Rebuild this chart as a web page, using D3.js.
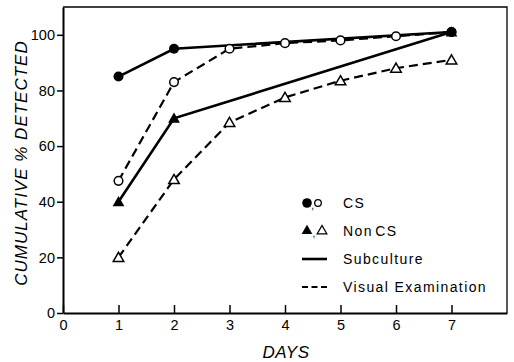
<!DOCTYPE html>
<html><head><meta charset="utf-8">
<script src="https://cdn.jsdelivr.net/npm/d3@7"></script>
<style>
html,body{margin:0;padding:0;background:#fff;}
svg{display:block;font-family:"Liberation Sans",Arial,sans-serif;}
</style></head>
<body><svg id="c" width="514" height="362"></svg>
<script>
const days = [1,2,3,4,5,6,7];
const subDays = [1,2,7];
const csSubculture = [85,95,101];
const nonCsSubculture = [40,70,101];
const csVisual = [47.5,83,95,97,98,99.5,101];
const nonCsVisual = [20,48,68.5,77.5,83.5,88,91];
const yTicks = [0,20,40,60,80,100];
const xTicks = [0,1,2,3,4,5,6,7];
const legendItems = ["CS","Non CS","Subculture","Visual Examination"];

const svg = d3.select("#c");
const x = d3.scaleLinear().domain([0,8]).range([63,507]);
const y = d3.scaleLinear().domain([0,110]).range([313,7]);

// frame top/right
svg.append("path").attr("d",`M${x(0)},${y(110)}H${x(8)}V${y(0)}`)
  .attr("fill","none").attr("stroke","#000").attr("stroke-width",1.3);

const yAx = svg.append("g").attr("transform",`translate(${x(0)},0)`)
  .call(d3.axisLeft(y).tickValues(yTicks).tickSize(6).tickPadding(2).tickSizeOuter(0));
yAx.select(".domain").attr("stroke-width",2);
yAx.selectAll(".tick line").attr("stroke-width",1.5);
yAx.selectAll("text").attr("font-size",14.5).attr("fill","#000")
  .attr("font-family","Liberation Sans, Arial, sans-serif");

const xAx = svg.append("g").attr("transform",`translate(0,${y(0)})`)
  .call(d3.axisBottom(x).tickValues(xTicks).tickSizeInner(-8).tickSizeOuter(0).tickPadding(7));
xAx.select(".domain").attr("stroke-width",2);
xAx.selectAll(".tick line").attr("stroke-width",1.5);
xAx.selectAll("text").attr("font-size",14.5).attr("fill","#000")
  .attr("font-family","Liberation Sans, Arial, sans-serif");

// axis titles
svg.append("text").attr("transform","translate(27,163) rotate(-90)")
  .attr("text-anchor","middle").attr("font-style","italic").attr("font-size",17)
  .attr("letter-spacing",1).text("CUMULATIVE % DETECTED");
svg.append("text").attr("x",286).attr("y",358)
  .attr("text-anchor","middle").attr("font-style","italic").attr("font-size",17)
  .attr("letter-spacing",0.5).text("DAYS");

const line = d3.line().x(d=>x(d[0])).y(d=>y(d[1]));
const zip = (a,b)=>a.map((v,i)=>[v,b[i]]);

function drawLine(pts, dashed){
  svg.append("path").attr("d",line(pts)).attr("fill","none").attr("stroke","#000")
    .attr("stroke-width",dashed?2.2:2.6)
    .attr("stroke-dasharray",dashed?"9,5":null);
}
drawLine(zip(days,csVisual),true);
drawLine(zip(days,nonCsVisual),true);
drawLine(zip(subDays,csSubculture),false);
drawLine(zip(subDays,nonCsSubculture),false);

const tri = d3.symbol().type(d3.symbolTriangle);
function circles(pts, filled){
  svg.append("g").selectAll("circle").data(pts).join("circle")
    .attr("cx",d=>x(d[0])).attr("cy",d=>y(d[1]))
    .attr("r",filled?5:4.3)
    .attr("fill",filled?"#000":"#fff").attr("stroke","#000").attr("stroke-width",filled?0:1.5);
}
function triangles(pts, filled){
  svg.append("g").selectAll("path").data(pts).join("path")
    .attr("transform",d=>`translate(${x(d[0])},${y(d[1])+1})`)
    .attr("d",tri.size(filled?60:48)())
    .attr("fill",filled?"#000":"#fff").attr("stroke","#000").attr("stroke-width",filled?0:1.5);
}
circles(zip(days,csVisual),false);
triangles(zip(days,nonCsVisual),false);
circles(zip(subDays,csSubculture),true);
triangles(zip(subDays,nonCsSubculture),true);

// legend
const lg = svg.append("g");
const rowY = [203,231,259,287];
const tx = 343;
legendItems.forEach((t,i)=>{
  lg.append("text").attr("x",tx).attr("y",rowY[i]+5).attr("font-size",14)
    .attr("letter-spacing",1.4).attr("word-spacing",i===1?-3:0).text(t);
});
lg.append("circle").attr("cx",307).attr("cy",rowY[0]).attr("r",4.8).attr("fill","#000");
lg.append("circle").attr("cx",318).attr("cy",rowY[0]).attr("r",3.3).attr("fill","#fff").attr("stroke","#000").attr("stroke-width",1.3);
lg.append("text").attr("x",311.3).attr("y",rowY[0]+6).attr("font-size",10).text(",");
lg.append("path").attr("transform",`translate(307,${rowY[1]})`).attr("d",tri.size(50)()).attr("fill","#000");
lg.append("path").attr("transform",`translate(322,${rowY[1]})`).attr("d",tri.size(40)()).attr("fill","#fff").attr("stroke","#000").attr("stroke-width",1.3);
lg.append("text").attr("x",312.5).attr("y",rowY[1]+6).attr("font-size",10).text(",");
lg.append("line").attr("x1",302).attr("x2",327).attr("y1",rowY[2]).attr("y2",rowY[2]).attr("stroke","#000").attr("stroke-width",2.6);
lg.append("line").attr("x1",302).attr("x2",327).attr("y1",rowY[3]).attr("y2",rowY[3]).attr("stroke","#000").attr("stroke-width",2).attr("stroke-dasharray","6,3.5");
</script></body></html>
